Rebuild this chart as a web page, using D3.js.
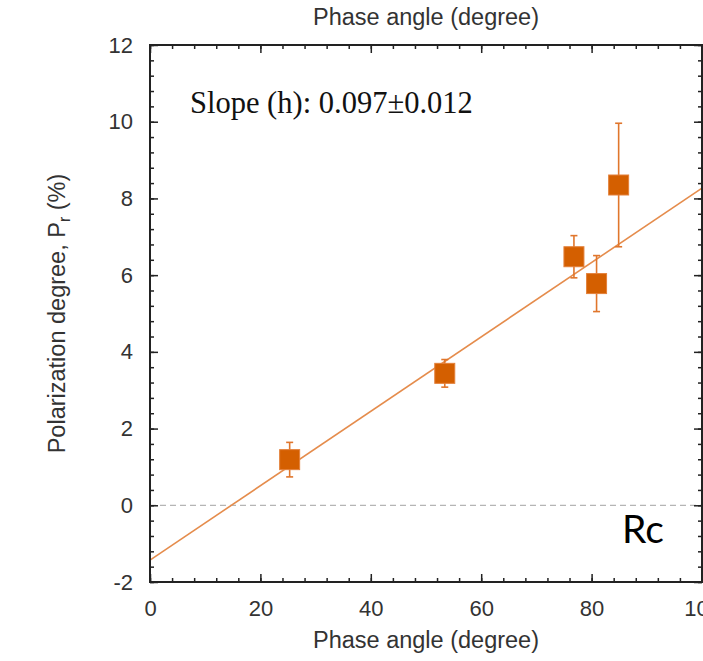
<!DOCTYPE html>
<html>
<head>
<meta charset="utf-8">
<script src="https://cdn.jsdelivr.net/npm/d3@7"></script>
<style>
  html, body { margin: 0; padding: 0; background: #fff; overflow: hidden; }
  #chart { width: 703px; height: 661px; }
  .tick text { font-family: "Liberation Sans", Arial, sans-serif; font-size: 22px; fill: #333; }
  .title { font-family: "Liberation Sans", Arial, sans-serif; font-size: 23.5px; fill: #333; }
</style>
</head>
<body>
<div id="chart"></div>
<script>
// === data
const phaseAngle = [25.3, 53.4, 76.8, 80.9, 84.9];
const polDegree  = [1.19, 3.44, 6.48, 5.78, 8.35];
const polError   = [0.45, 0.36, 0.55, 0.73, 1.61];

const fitSlope = 0.097;
const fitIntercept = -1.43;
const slopeLabel = "Slope (h): 0.097\u00b10.012";
const filterLabel = "Rc";

const xTicks = [0, 20, 40, 60, 80, 100];
const yTicks = [-2, 0, 2, 4, 6, 8, 10, 12];
const xMinor = d3.range(0, 100.01, 4);
const yMinor = d3.range(-2, 12.01, 0.4);

(() => {
  const W = 703, H = 661;
  const margin = { top: 45, right: 1, bottom: 79, left: 150 };
  const width = W - margin.left - margin.right;
  const height = H - margin.top - margin.bottom;

  const svg = d3.select("#chart").append("svg")
    .attr("width", W).attr("height", H)
    .attr("viewBox", `0 0 ${W} ${H}`);

  const g = svg.append("g").attr("transform", `translate(${margin.left},${margin.top})`);

  const x = d3.scaleLinear().domain([0, 100]).range([0, width]);
  const y = d3.scaleLinear().domain([-2, 12]).range([height, 0]);

  // === zero line (dashed)
  g.append("line")
    .attr("x1", x(0)).attr("x2", x(100))
    .attr("y1", y(0)).attr("y2", y(0))
    .attr("stroke", "#b5b5b5").attr("stroke-width", 1.3)
    .attr("stroke-dasharray", "6,4");

  // === fit line
  const fit = [0, 100].map(a => ({ a, p: fitIntercept + fitSlope * a }));
  g.append("path")
    .datum(fit)
    .attr("fill", "none")
    .attr("stroke", "#e58c4c")
    .attr("stroke-width", 1.6)
    .attr("d", d3.line().x(d => x(d.a)).y(d => y(d.p)));

  // === error bars + squares
  const pts = phaseAngle.map((a, i) => ({ a, p: polDegree[i], e: polError[i] }));
  const eb = g.append("g").attr("stroke", "#e0762c").attr("stroke-width", 1.6);
  pts.forEach(d => {
    eb.append("line").attr("x1", x(d.a)).attr("x2", x(d.a)).attr("y1", y(d.p - d.e)).attr("y2", y(d.p + d.e));
    [d.p - d.e, d.p + d.e].forEach(v => {
      eb.append("line").attr("x1", x(d.a) - 3.5).attr("x2", x(d.a) + 3.5).attr("y1", y(v)).attr("y2", y(v));
    });
  });
  const sq = 20;
  g.append("g").selectAll("rect").data(pts).join("rect")
    .attr("x", d => x(d.a) - sq / 2)
    .attr("y", d => y(d.p) - sq / 2)
    .attr("width", sq).attr("height", sq)
    .attr("fill", "#d45f00")
    .attr("stroke", "#e3803a").attr("stroke-width", 1);

  // === axes (ticks inward on all four sides)
  const ax = (axis, tx, ty, vals, size, labels) => {
    const a = g.append("g").attr("transform", `translate(${tx},${ty})`)
      .call(axis.tickValues(vals).tickSizeInner(-size).tickSizeOuter(0)
        .tickPadding(labels ? 18 : 0).tickFormat(labels ? (d => String(d)) : ""));
    a.select(".domain").remove();
    a.selectAll(".tick line").attr("stroke", "#222").attr("stroke-width", 1.5);
    return a;
  };
  ax(d3.axisBottom(x), 0, height, xTicks, 8, true);
  ax(d3.axisBottom(x), 0, height, xMinor, 4, false);
  ax(d3.axisTop(x), 0, 0, xTicks, 8, false);
  ax(d3.axisTop(x), 0, 0, xMinor, 4, false);
  ax(d3.axisLeft(y), 0, 0, yTicks, 8, true).selectAll("text").attr("dx", 1);
  ax(d3.axisLeft(y), 0, 0, yMinor, 4, false);
  ax(d3.axisRight(y), width, 0, yTicks, 8, false);
  ax(d3.axisRight(y), width, 0, yMinor, 4, false);

  // frame
  g.append("rect")
    .attr("x", 0).attr("y", 0).attr("width", width).attr("height", height)
    .attr("fill", "none").attr("stroke", "#222").attr("stroke-width", 2);

  // === titles
  svg.append("text").attr("class", "title")
    .attr("x", margin.left + width / 2).attr("y", 25)
    .attr("text-anchor", "middle").text("Phase angle (degree)");
  svg.append("text").attr("class", "title")
    .attr("x", margin.left + width / 2).attr("y", 648)
    .attr("text-anchor", "middle").text("Phase angle (degree)");

  const yl = svg.append("text").attr("class", "title")
    .attr("transform", `translate(65,${margin.top + height / 2}) rotate(-90)`)
    .attr("text-anchor", "middle");
  yl.append("tspan").text("Polarization degree, P");
  yl.append("tspan").attr("font-size", "16px").attr("dy", 5).text("r");
  yl.append("tspan").attr("dy", -5).text(" (%)");

  // === annotations
  svg.append("text")
    .attr("x", 190).attr("y", 113)
    .attr("font-family", "'Liberation Serif', 'Times New Roman', serif")
    .attr("font-size", 30.5).attr("fill", "#111")
    .text(slopeLabel);

  svg.append("text")
    .attr("x", 622).attr("y", 543)
    .attr("font-family", "Lato, 'Open Sans', sans-serif")
    .attr("font-size", 39).attr("fill", "#000")
    .text(filterLabel);
})();
</script>
</body>
</html>
